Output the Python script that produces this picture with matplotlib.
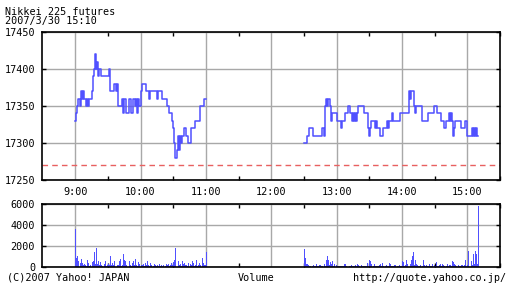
import numpy as np
import matplotlib
matplotlib.use('Agg')
import matplotlib.pyplot as plt
from matplotlib.ticker import FixedLocator

plt.rcParams['font.family'] = ['DejaVu Sans Mono']
plt.rcParams['font.size'] = 7.3

# price change points (time, price), drawn as steps
am_times = ['9:00', '9:01', '9:02', '9:03', '9:04', '9:05', '9:06', '9:07', '9:08', '9:10',
            '9:11', '9:12', '9:13', '9:15', '9:16', '9:17', '9:18', '9:19', '9:20', '9:21',
            '9:22', '9:24', '9:31', '9:32', '9:36', '9:37', '9:38', '9:39', '9:43', '9:44',
            '9:45', '9:47', '9:49', '9:51', '9:53', '9:55', '9:56', '9:57', '9:58', '9:59',
            '10:00', '10:01', '10:05', '10:08', '10:09', '10:15', '10:16', '10:20', '10:24', '10:26',
            '10:29', '10:30', '10:31', '10:32', '10:33', '10:34', '10:35', '10:36', '10:37', '10:38',
            '10:40', '10:42', '10:44', '10:46', '10:50', '10:55', '10:58', '11:00']
am_prices = [17330, 17340, 17350, 17360, 17350, 17370, 17360, 17370, 17360, 17350,
             17360, 17350, 17360, 17370, 17390, 17400, 17420, 17400, 17410, 17390,
             17400, 17390, 17400, 17370, 17380, 17370, 17380, 17350, 17360, 17340,
             17360, 17340, 17360, 17340, 17360, 17350, 17360, 17340, 17360, 17350,
             17370, 17380, 17370, 17360, 17370, 17360, 17370, 17360, 17350, 17340,
             17330, 17320, 17300, 17280, 17290, 17310, 17290, 17310, 17300, 17310,
             17320, 17310, 17300, 17320, 17330, 17350, 17360, 17360]

pm_times = ['12:30', '12:33', '12:35', '12:38', '12:47', '12:48', '12:49', '12:50', '12:51', '12:52',
            '12:54', '12:55', '12:56', '13:00', '13:04', '13:05', '13:08', '13:10', '13:12', '13:14',
            '13:15', '13:16', '13:17', '13:18', '13:19', '13:20', '13:25', '13:29', '13:30', '13:31',
            '13:32', '13:35', '13:36', '13:37', '13:40', '13:43', '13:46', '13:47', '13:48', '13:51',
            '13:52', '13:58', '14:06', '14:07', '14:08', '14:11', '14:12', '14:13', '14:18', '14:24',
            '14:29', '14:32', '14:36', '14:39', '14:40', '14:43', '14:44', '14:45', '14:46', '14:47',
            '14:48', '14:49', '14:54', '14:58', '15:00', '15:04', '15:05', '15:06', '15:07', '15:08',
            '15:09', '15:10']
pm_prices = [17300, 17310, 17320, 17310, 17320, 17310, 17350, 17360, 17350, 17360,
             17350, 17330, 17340, 17330, 17320, 17330, 17340, 17350, 17340, 17330,
             17340, 17330, 17340, 17330, 17340, 17350, 17340, 17320, 17310, 17320,
             17330, 17320, 17330, 17320, 17310, 17320, 17330, 17320, 17330, 17340,
             17330, 17340, 17370, 17360, 17370, 17350, 17340, 17350, 17330, 17340,
             17350, 17340, 17330, 17320, 17330, 17340, 17330, 17340, 17330, 17310,
             17320, 17330, 17320, 17330, 17310, 17320, 17310, 17320, 17310, 17320,
             17310, 17310]

prev_close = 17270

# volume per minute, morning from 9:00, afternoon from 12:30
vol_am_start = '9:00'
vol_am = [3620, 860, 1070, 530, 380, 760, 380, 150, 280, 220, 120, 640, 380, 100, 220, 440,
          530, 1450, 250, 1840, 280, 530, 220, 500, 220, 100, 280, 530, 120, 220, 280, 150,
          1050, 180, 380, 220, 530, 100, 220, 150, 530, 760, 120, 220, 1210, 700, 530, 150,
          280, 530, 220, 100, 350, 530, 150, 800, 220, 120, 440, 300, 150, 220, 280, 100,
          380, 150, 530, 220, 100, 380, 220, 120, 280, 220, 100, 150, 80, 300, 100, 220,
          80, 150, 120, 280, 220, 280, 100, 220, 350, 150, 440, 700, 1810, 860, 530, 150,
          280, 120, 530, 280, 380, 150, 220, 100, 350, 300, 150, 530, 380, 120, 220, 640,
          100, 220, 380, 150, 860, 380, 150, 220, 1390]
vol_pm_start = '12:30'
vol_pm = [1680, 870, 320, 320, 190, 100, 130, 80, 190, 130, 80, 320, 130, 80, 190, 190,
          80, 130, 320, 130, 710, 1030, 650, 190, 450, 320, 550, 130, 320, 190, 100, 130,
          130, 80, 130, 100, 80, 320, 260, 100, 190, 130, 80, 190, 130, 100, 80, 190,
          130, 320, 190, 80, 190, 100, 130, 80, 100, 130, 390, 130, 650, 550, 320, 100,
          260, 130, 80, 130, 100, 190, 320, 130, 390, 130, 80, 190, 130, 100, 390, 320,
          80, 130, 100, 190, 230, 80, 130, 230, 100, 130, 550, 450, 100, 230, 710, 320,
          130, 320, 710, 1030, 1420, 190, 650, 260, 230, 100, 130, 230, 80, 710, 190, 100,
          230, 130, 80, 320, 130, 100, 320, 230, 100, 450, 130, 80, 190, 260, 100, 320,
          190, 80, 130, 320, 100, 230, 230, 130, 550, 450, 320, 230, 100, 230, 130, 80,
          190, 230, 100, 230, 700, 130, 230, 1520, 1360, 550, 230, 1200, 320, 1520, 1200, 320,
          5800]

hour_labels = ['9:00', '10:00', '11:00', '12:00', '13:00', '14:00', '15:00']


def to_min(t):
    h, m = t.split(':')
    return (int(h) - 9) * 60 + int(m)


blue = '#5050ff'
grid_c = '#a8a8a8'

fig = plt.figure(figsize=(5.12, 2.88), dpi=100)
ax = fig.add_axes([42 / 512, 1 - 180 / 288, 458 / 512, 148 / 288])
axv = fig.add_axes([42 / 512, 1 - 267 / 288, 458 / 512, 63 / 288])

hours = [to_min(h) for h in hour_labels]
halves = [h + 30 for h in hours]

for a in (ax, axv):
    a.set_xlim(-30.5, 390)
    a.xaxis.set_major_locator(FixedLocator(hours))
    a.xaxis.set_minor_locator(FixedLocator(halves))
    a.grid(True, color=grid_c, linewidth=1)
    a.set_axisbelow(True)
    a.tick_params(axis='both', which='both', direction='in', top=True, right=True,
                  length=3, width=1, colors='black', labelsize=7.3, pad=5)
    a.tick_params(axis='x', which='major', length=0)
    for s in a.spines.values():
        s.set_linewidth(1.2)

ax.plot([to_min(t) for t in am_times], am_prices, drawstyle='steps-post', color=blue, lw=1.1)
ax.plot([to_min(t) for t in pm_times], pm_prices, drawstyle='steps-post', color=blue, lw=1.1)
ax.axhline(prev_close, color='#e86060', lw=1, ls=(0, (4, 3)))
ax.set_ylim(17250, 17450)
ax.set_yticks([17250, 17300, 17350, 17400, 17450])
ax.set_xticklabels(hour_labels)
ax.tick_params(axis='x', pad=5)

xa = to_min(vol_am_start) + np.arange(len(vol_am))
xp = to_min(vol_pm_start) + np.arange(len(vol_pm))
axv.bar(xa, vol_am, width=0.9, color=blue, align='edge', linewidth=0)
axv.bar(xp, vol_pm, width=0.9, color=blue, align='edge', linewidth=0)
axv.set_ylim(0, 6000)
axv.set_yticks([0, 2000, 4000, 6000])
axv.set_xticklabels([])

fig.text(5 / 512, 1 - 12 / 288, 'Nikkei 225 futures', va='center', ha='left')
fig.text(5 / 512, 1 - 21 / 288, '2007/3/30 15:10', va='center', ha='left')
fig.text(7 / 512, 1 - 278 / 288, '(C)2007 Yahoo! JAPAN', va='center', ha='left')
fig.text(256 / 512, 1 - 278 / 288, 'Volume', va='center', ha='center')
fig.text(506 / 512, 1 - 278 / 288, 'http://quote.yahoo.co.jp/', va='center', ha='right')

fig.savefig('out.png', dpi=100)
